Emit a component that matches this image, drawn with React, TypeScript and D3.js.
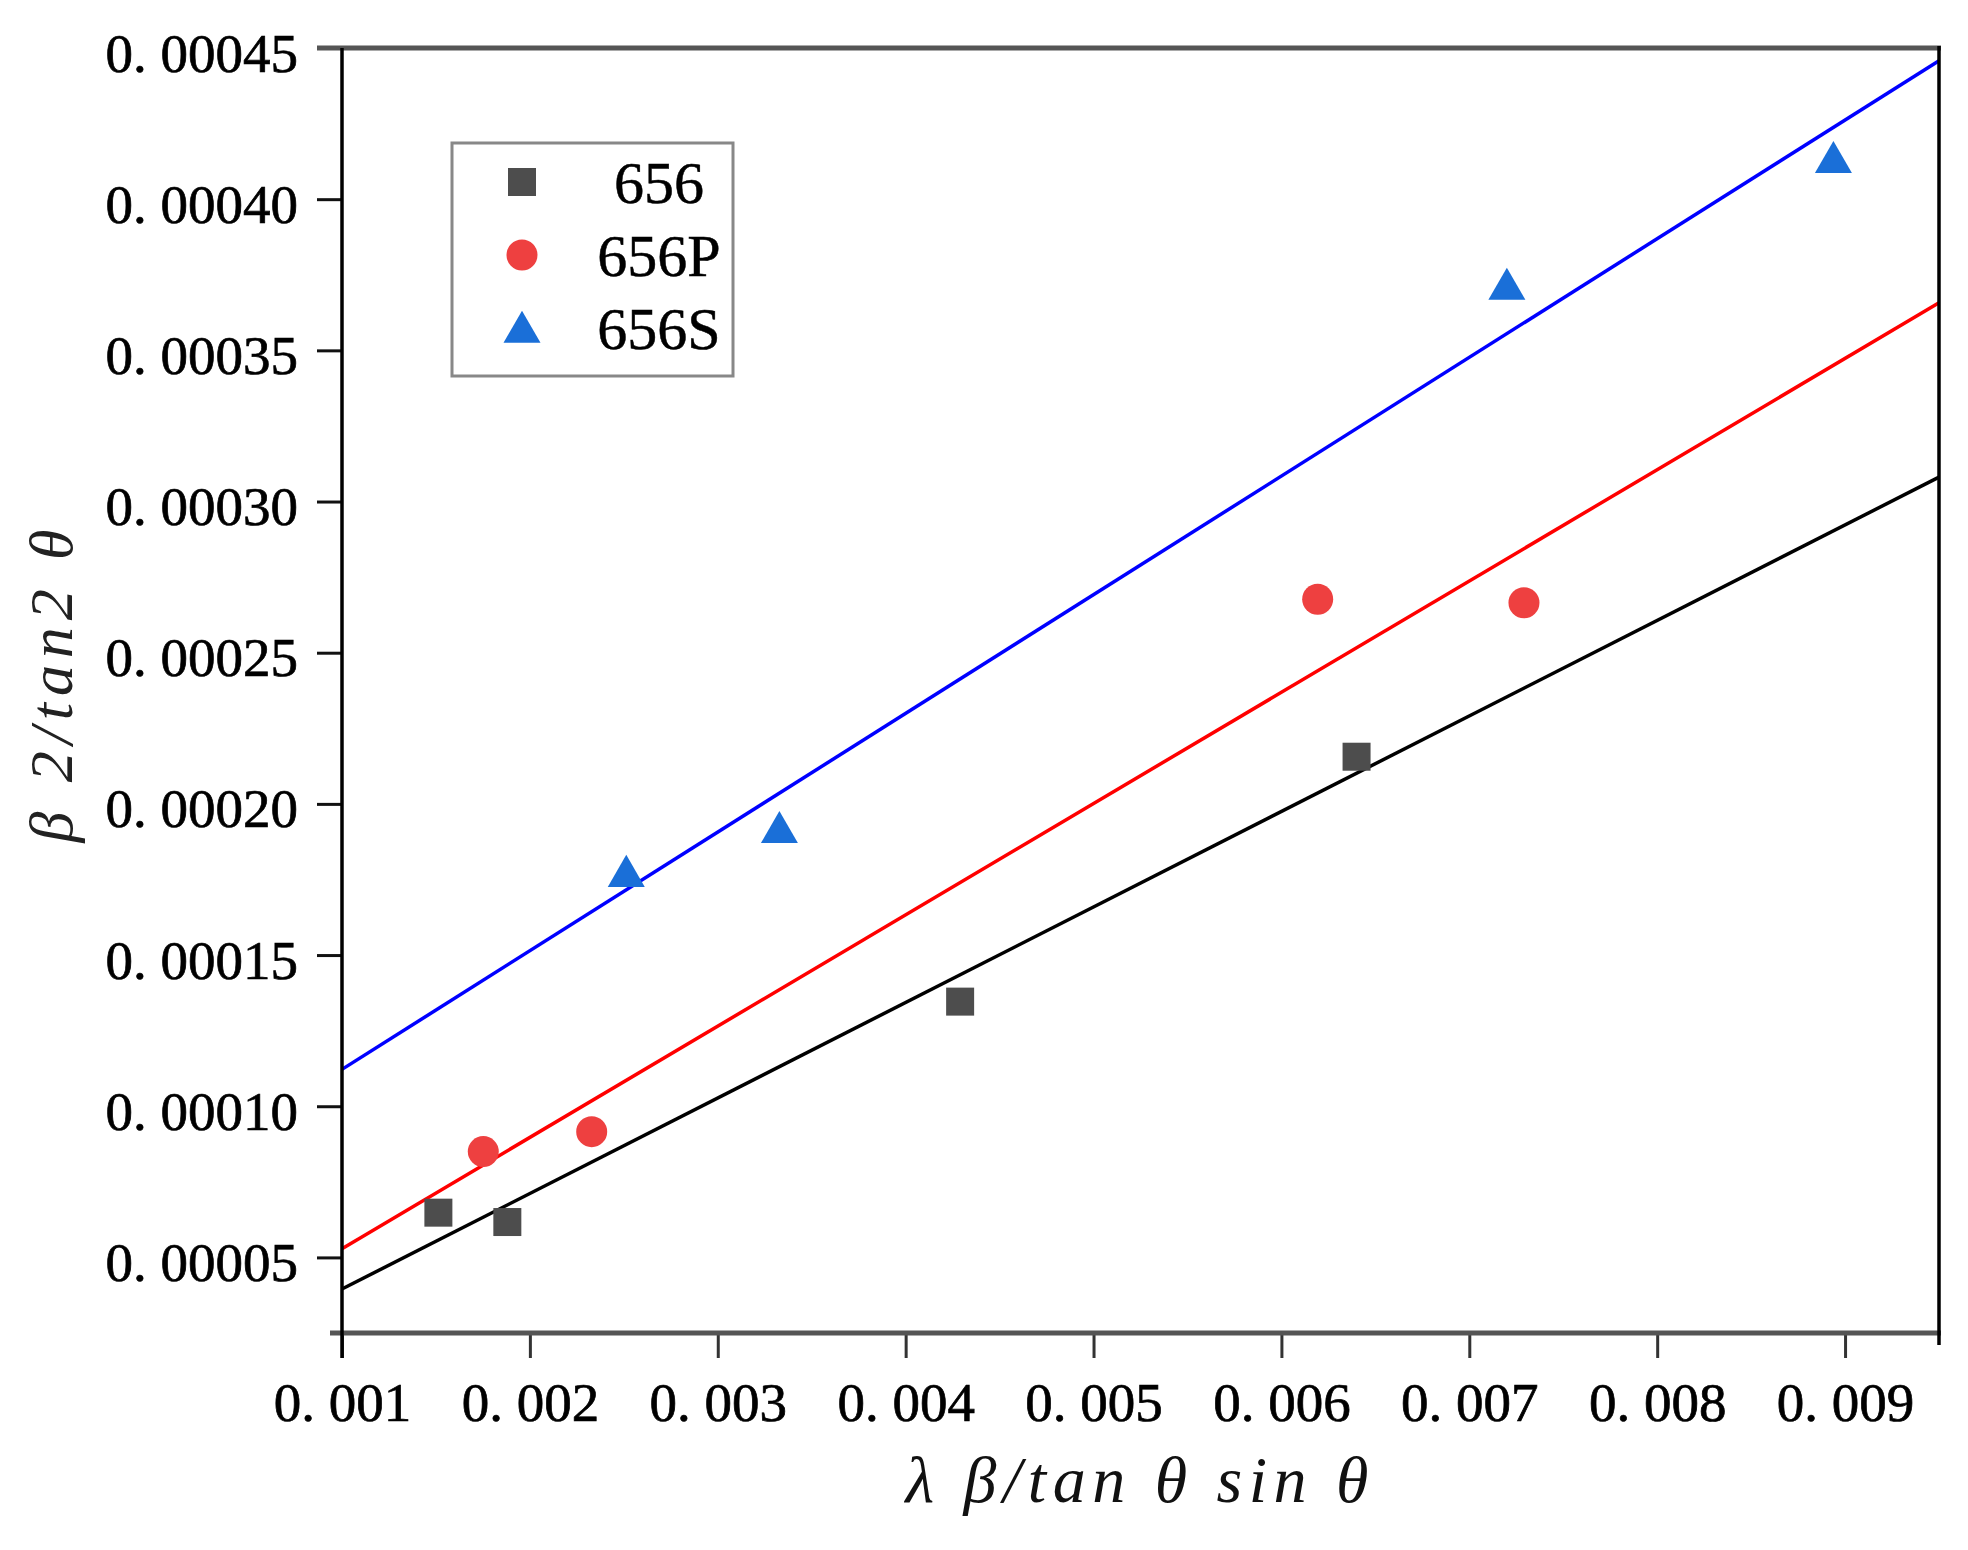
import { useEffect, useRef } from "react";
import * as d3 from "d3";

// x = λβ/(tanθ sinθ), y = β²/tan²θ
const seriesNames = ["656", "656P", "656S"];
const x656 = [0.001513, 0.00188, 0.00429, 0.0064];
const y656 = [0.0000648, 0.0000617, 0.0001346, 0.0002156];
const x656P = [0.001752, 0.002329, 0.006193, 0.007291];
const y656P = [0.000085, 0.0000916, 0.0002677, 0.0002665];
const x656S = [0.002513, 0.003328, 0.0072, 0.008938];
const y656S = [0.0001774, 0.0001919, 0.0003716, 0.0004135];

const xTicks = [0.001, 0.002, 0.003, 0.004, 0.005, 0.006, 0.007, 0.008, 0.009];
const xMinor = [0.0015, 0.0025, 0.0035, 0.0045, 0.0055, 0.0065, 0.0075, 0.0085, 0.0095];
const yTicks = [0.00005, 0.0001, 0.00015, 0.0002, 0.00025, 0.0003, 0.00035, 0.0004, 0.00045];
const yMinor = [0.000025, 0.000075, 0.000125, 0.000175, 0.000225, 0.000275, 0.000325, 0.000375, 0.000425];

const W = 1968;
const H = 1550;
const left = 342;
const right = 1939;
const top = 48;
const bottom = 1333;

const serif = "'Liberation Serif', 'Times New Roman', serif";

// least squares line through one series
function fit(xs: number[], ys: number[]) {
  const mx = d3.mean(xs)!;
  const my = d3.mean(ys)!;
  let sxy = 0;
  let sxx = 0;
  xs.forEach((x, i) => {
    sxy += (x - mx) * (ys[i] - my);
    sxx += (x - mx) * (x - mx);
  });
  const k = sxy / sxx;
  return { k, b: my - k * mx };
}

export default function App() {
  const ref = useRef<SVGSVGElement>(null);

  useEffect(() => {
    const svg = d3.select(ref.current);
    svg.selectAll("*").remove();

    const x = d3.scaleLinear().domain([0.001, 0.0095]).range([left, right]);
    const y = d3.scaleLinear().domain([0.000025, 0.00045]).range([bottom, top]);

    const series = [
      { name: seriesNames[0], xs: x656, ys: y656, line: "#000000", fill: "#4d4d4d", shape: "square" },
      { name: seriesNames[1], xs: x656P, ys: y656P, line: "#ff0000", fill: "#ee4040", shape: "circle" },
      { name: seriesNames[2], xs: x656S, ys: y656S, line: "#0000ff", fill: "#1a6fd8", shape: "triangle" },
    ];

    const symbolFor = (shape: string) => {
      if (shape === "square") return d3.symbol(d3.symbolSquare, 28 * 28)();
      if (shape === "circle") return d3.symbol(d3.symbolCircle, Math.PI * 15.5 * 15.5)();
      return d3.symbol(d3.symbolTriangle, (Math.sqrt(3) / 4) * 37 * 37)();
    };

    // fitted lines over the full x range
    const [x0, x1] = x.domain();
    series.forEach((s) => {
      const { k, b } = fit(s.xs, s.ys);
      svg
        .append("line")
        .attr("x1", x(x0))
        .attr("y1", y(k * x0 + b))
        .attr("x2", x(x1))
        .attr("y2", y(k * x1 + b))
        .attr("stroke", s.line)
        .attr("stroke-width", 3.5);
    });

    // points
    series.forEach((s) => {
      svg
        .append("g")
        .selectAll("path")
        .data(s.xs.map((v, i) => [v, s.ys[i]]))
        .join("path")
        .attr("d", symbolFor(s.shape) ?? "")
        .attr("transform", (d) => `translate(${x(d[0])},${y(d[1]) + (s.shape === "triangle" ? 4 : 0)})`)
        .attr("fill", s.fill);
    });

    // axes
    const fmtX = (d: d3.NumberValue) => "0. " + d3.format(".3f")(+d).slice(2);
    const fmtY = (d: d3.NumberValue) => "0. " + d3.format(".5f")(+d).slice(2);

    const gx = svg.append("g").attr("transform", `translate(0,${bottom})`);
    gx.call(d3.axisBottom(x).tickValues(xMinor).tickSize(12).tickFormat(() => ""));
    gx.call(d3.axisBottom(x).tickValues(xTicks).tickSize(25).tickFormat(fmtX));

    const gy = svg.append("g").attr("transform", `translate(${left},0)`);
    gy.call(d3.axisLeft(y).tickValues(yMinor).tickSize(12).tickFormat(() => ""));
    gy.call(d3.axisLeft(y).tickValues(yTicks).tickSize(25).tickFormat(fmtY));

    svg.selectAll(".domain").remove();
    gx.selectAll(".tick line").attr("stroke", "#333").attr("stroke-width", 3);
    gy.selectAll(".tick line").attr("stroke", "#111").attr("stroke-width", 3);
    gx.selectAll(".tick text")
      .attr("y", 88)
      .attr("dy", 0)
      .attr("fill", "#000")
      .attr("stroke", "#000")
      .attr("stroke-width", 0.7)
      .style("font-family", serif)
      .style("font-size", "55px");
    gy.selectAll(".tick text")
      .attr("x", -44)
      .attr("dy", 23)
      .attr("fill", "#000")
      .attr("stroke", "#000")
      .attr("stroke-width", 0.7)
      .style("font-family", serif)
      .style("font-size", "55px");

    // frame
    svg.append("line")
      .attr("x1", left - 25).attr("x2", right + 2).attr("y1", top).attr("y2", top)
      .attr("stroke", "#555").attr("stroke-width", 5);
    svg.append("line")
      .attr("x1", left - 12).attr("x2", right + 2).attr("y1", bottom).attr("y2", bottom)
      .attr("stroke", "#555").attr("stroke-width", 5);
    svg.append("line")
      .attr("x1", left).attr("x2", left).attr("y1", top).attr("y2", bottom + 25)
      .attr("stroke", "#000").attr("stroke-width", 3.5);
    svg.append("line")
      .attr("x1", right).attr("x2", right).attr("y1", top - 2).attr("y2", bottom + 12)
      .attr("stroke", "#000").attr("stroke-width", 3.5);

    // axis titles
    svg.append("text")
      .attr("x", 1137)
      .attr("y", 1502)
      .attr("text-anchor", "middle")
      .attr("textLength", 463)
      .attr("lengthAdjust", "spacing")
      .attr("fill", "#111")
      .style("font-family", serif)
      .style("font-style", "italic")
      .style("font-size", "66px")
      .text("λ β/tan θ sin θ");
    svg.append("text")
      .attr("transform", "translate(72,686) rotate(-90)")
      .attr("text-anchor", "middle")
      .attr("textLength", 313)
      .attr("lengthAdjust", "spacing")
      .attr("fill", "#222")
      .style("font-family", serif)
      .style("font-style", "italic")
      .style("font-size", "62px")
      .text("β 2/tan2 θ");

    // legend
    const lg = svg.append("g");
    lg.append("rect")
      .attr("x", 452).attr("y", 143).attr("width", 281).attr("height", 233)
      .attr("fill", "#fff").attr("stroke", "#888").attr("stroke-width", 3);
    series.forEach((s, i) => {
      const cy = 182 + i * 73;
      lg.append("path")
        .attr("d", symbolFor(s.shape) ?? "")
        .attr("transform", `translate(522,${cy + (s.shape === "triangle" ? 4 : 0)})`)
        .attr("fill", s.fill);
      lg.append("text")
        .attr("x", 659)
        .attr("y", cy + 21)
        .attr("text-anchor", "middle")
        .attr("fill", "#000")
        .attr("stroke", "#000")
        .attr("stroke-width", 0.5)
        .style("font-family", serif)
        .style("font-size", "60px")
        .text(s.name);
    });
  }, []);

  return (
    <svg
      ref={ref}
      width={W}
      height={H}
      style={{ position: "absolute", left: 0, top: 0, background: "#fff" }}
    />
  );
}
